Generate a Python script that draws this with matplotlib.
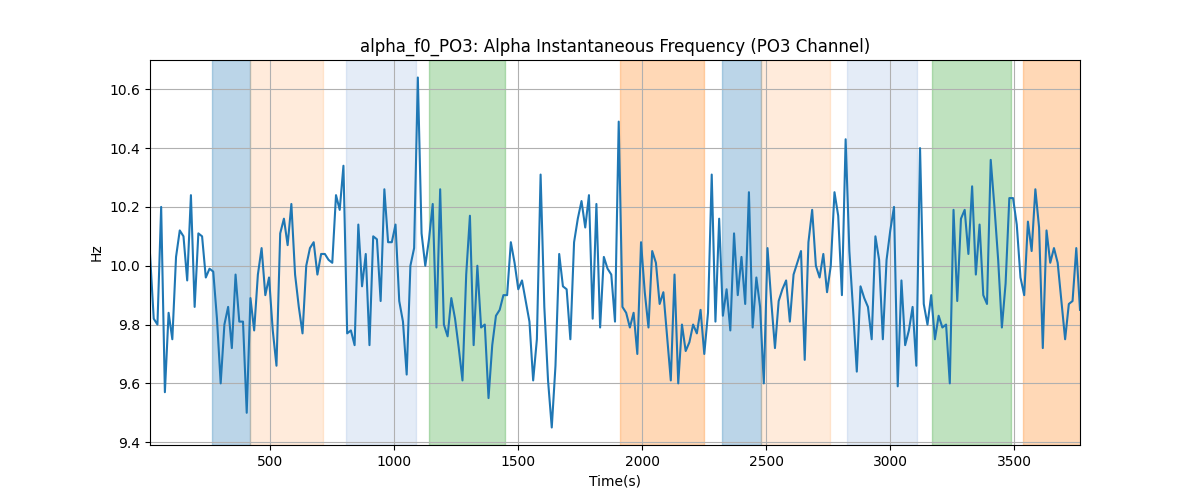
import matplotlib
matplotlib.use('Agg')
import matplotlib.pyplot as plt
import numpy as np

# sample times: one value every 15 s
t_start = 15
t_step = 15

freq = [
    10.04, 9.82, 9.80, 10.20, 9.57, 9.84, 9.75, 10.03, 10.12, 10.10,
    9.95, 10.24, 9.86, 10.11, 10.10, 9.96, 9.99, 9.98, 9.82, 9.60,
    9.80, 9.86, 9.72, 9.97, 9.81, 9.81, 9.50, 9.89, 9.78, 9.97,
    10.06, 9.90, 9.96, 9.78, 9.66, 10.11, 10.16, 10.07, 10.21, 9.97,
    9.86, 9.77, 10.00, 10.06, 10.08, 9.97, 10.04, 10.04, 10.02, 10.01,
    10.24, 10.19, 10.34, 9.77, 9.78,
    9.73, 10.14, 9.93, 10.04, 9.73, 10.10, 10.09, 9.88, 10.26, 10.08,
    10.08, 10.14, 9.88, 9.81, 9.63, 10.00, 10.06, 10.64, 10.11, 10.00,
    10.09, 10.21, 9.79, 10.26, 9.80, 9.76, 9.89, 9.82, 9.72, 9.61,
    9.97, 10.17, 9.73, 10.00, 9.79, 9.80, 9.55, 9.73, 9.83, 9.85,
    9.90, 9.90, 10.08, 10.01, 9.92, 9.95, 9.88, 9.81, 9.61, 9.75, 10.31,
    9.86, 9.61, 9.45, 9.66, 10.04, 9.93, 9.92, 9.75, 10.08, 10.16,
    10.22, 10.13, 10.24, 9.82, 10.21, 9.79, 10.03, 9.99, 9.97, 9.81,
    10.49, 9.86, 9.84, 9.79, 9.84, 9.70, 10.08, 9.91, 9.79, 10.05,
    10.01, 9.87, 9.91, 9.76, 9.61, 9.97, 9.60, 9.80, 9.71, 9.74,
    9.80, 9.77, 9.85, 9.70, 9.84, 10.31, 9.81, 10.16, 9.83, 9.92, 9.78,
    10.11, 9.90, 10.03, 9.87, 10.25, 9.79, 9.96, 9.86, 9.60, 10.06,
    9.88, 9.72, 9.88, 9.92, 9.95, 9.81, 9.97, 10.01, 10.05, 9.68,
    10.08, 10.19, 10.00, 9.96, 10.04, 9.91, 10.00, 10.25, 10.17, 9.90,
    10.43, 10.05, 9.85, 9.64, 9.93, 9.89, 9.86, 9.75, 10.10, 10.02,
    9.75, 10.02, 10.12, 10.20, 9.59, 9.95, 9.73, 9.78, 9.86, 9.66, 10.40,
    9.87, 9.80, 9.90, 9.75, 9.83, 9.79, 9.80, 9.60, 10.19, 9.88,
    10.16, 10.19, 10.04, 10.27, 9.97, 10.14, 9.90, 9.87, 10.36, 10.20,
    10.02, 9.79, 9.94, 10.23, 10.23, 10.14, 9.96, 9.90, 10.15, 10.05,
    10.26, 10.13, 9.72, 10.12, 10.01, 10.06, 10.01, 9.88, 9.75, 9.87,
    9.88, 10.06, 9.85,
]

# shaded segments: (start, end, color, alpha)
span_start = [267, 420, 806, 1141, 1911, 2322, 2478, 2824, 3168, 3535]
span_end = [420, 713, 1088, 1447, 2249, 2478, 2757, 3107, 3486, 3800]
span_color = ['C0', 'C1', '#4a80ca', 'C2', 'C1', 'C0', 'C1', '#4a80ca', 'C2', 'C1']
span_alpha = [0.3, 0.15, 0.15, 0.3, 0.3, 0.3, 0.15, 0.15, 0.3, 0.3]

t = t_start + t_step * np.arange(len(freq))

fig, ax = plt.subplots(figsize=(12, 5))
for s, e, c, a in zip(span_start, span_end, span_color, span_alpha):
    ax.axvspan(s, e, color=c, alpha=a)
ax.plot(t, freq, color='C0', linewidth=1.5)
ax.set_xlim(t[0], t[-1])
ax.grid(True)
ax.set_title('alpha_f0_PO3: Alpha Instantaneous Frequency (PO3 Channel)')
ax.set_xlabel('Time(s)')
ax.set_ylabel('Hz')

fig.savefig('out.png', dpi=100)
